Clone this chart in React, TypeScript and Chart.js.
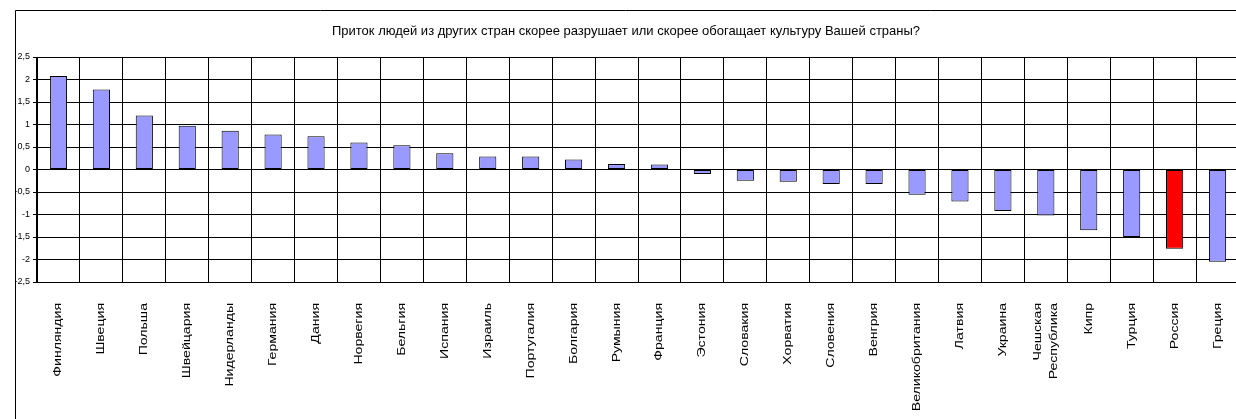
import React, { useEffect, useRef } from "react";
import { Chart, registerables } from "chart.js";

Chart.register(...registerables);

const titleText =
  "Приток людей из других стран скорее разрушает или скорее обогащает культуру Вашей страны?";

const categories: (string | string[])[] = [
  "Финляндия",
  "Швеция",
  "Польша",
  "Швейцария",
  "Нидерланды",
  "Германия",
  "Дания",
  "Норвегия",
  "Бельгия",
  "Испания",
  "Израиль",
  "Португалия",
  "Болгария",
  "Румыния",
  "Франция",
  "Эстония",
  "Словакия",
  "Хорватия",
  "Словения",
  "Венгрия",
  "Великобритания",
  "Латвия",
  "Украина",
  ["Чешская", "Республика"],
  "Кипр",
  "Турция",
  "Россия",
  "Греция",
];

const values: number[] = [
  2.08, 1.78, 1.2, 0.97, 0.86, 0.78, 0.74, 0.6, 0.54, 0.36, 0.29, 0.29, 0.22,
  0.12, 0.11, -0.1, -0.25, -0.27, -0.32, -0.32, -0.56, -0.71, -0.92, -1.02,
  -1.35, -1.5, -1.76, -2.05,
];

const highlighted = "Россия";
const baseColor = "#9999FF";
const highlightColor = "#FF0000";

const yMin = -2.5;
const yMax = 2.5;
const yStep = 0.5;

const CANVAS_W = 1236;
const CANVAS_H = 419;
const PLOT_OVERFLOW_RIGHT = 3;

const framePlugin = {
  id: "frame",
  beforeDraw(chart: any) {
    const ctx = chart.ctx;
    ctx.save();
    ctx.fillStyle = "#ffffff";
    ctx.fillRect(0, 0, chart.width, chart.height);
    ctx.strokeStyle = "#000000";
    ctx.lineWidth = 1;
    ctx.beginPath();
    ctx.moveTo(15.5, chart.height);
    ctx.lineTo(15.5, 10.5);
    ctx.lineTo(chart.width, 10.5);
    ctx.stroke();
    ctx.restore();
  },
};

// The plot area of the original runs a few pixels past the right edge of the picture.
const extendPlotPlugin = {
  id: "extendPlot",
  afterLayout(chart: any) {
    const x = chart.scales.x;
    x.right += PLOT_OVERFLOW_RIGHT;
    x.width += PLOT_OVERFLOW_RIGHT;
    chart.chartArea.right += PLOT_OVERFLOW_RIGHT;
    chart.chartArea.width += PLOT_OVERFLOW_RIGHT;
    x.configure();
  },
};

const stretchedLabelsPlugin = {
  id: "stretchedLabels",
  afterDraw(chart: any) {
    const ctx = chart.ctx;
    const xScale = chart.scales.x;
    const top = chart.chartArea.bottom + 21;
    const lineH = 16;
    ctx.save();
    ctx.fillStyle = "#000000";
    ctx.font = "11px 'Liberation Sans', Arial, sans-serif";
    ctx.textAlign = "right";
    ctx.textBaseline = "middle";
    categories.forEach((label, i) => {
      const lines = Array.isArray(label) ? label : [label];
      const x = xScale.getPixelForValue(i);
      ctx.save();
      ctx.translate(x, top);
      ctx.rotate(-Math.PI / 2);
      ctx.scale(1.28, 1);
      lines.forEach((ln, j) => {
        const dy = (j - (lines.length - 1) / 2) * lineH;
        ctx.fillText(ln, 0, dy);
      });
      ctx.restore();
    });
    ctx.restore();
  },
};

export default function App() {
  const canvasRef = useRef<HTMLCanvasElement | null>(null);

  useEffect(() => {
    const canvas = canvasRef.current;
    if (!canvas) return;
    const chart = new Chart(canvas, {
      type: "bar",
      data: {
        labels: categories,
        datasets: [
          {
            data: values,
            backgroundColor: categories.map((c) =>
              c === highlighted ? highlightColor : baseColor
            ),
            borderColor: "#000000",
            borderWidth: 1,
            borderSkipped: false,
            barPercentage: 0.4,
            categoryPercentage: 1,
          },
        ],
      },
      options: {
        responsive: false,
        animation: false,
        devicePixelRatio: 1,
        layout: { padding: { left: 16, right: 0, top: 0, bottom: 0 } },
        plugins: {
          legend: { display: false },
          tooltip: { enabled: false },
          title: {
            display: true,
            text: titleText,
            color: "#000000",
            font: {
              family: "'Liberation Sans', Arial, sans-serif",
              size: 13,
              weight: "normal",
              lineHeight: 1.2,
            },
            padding: { top: 23.7, bottom: 17.7 },
          },
        },
        scales: {
          x: {
            type: "category",
            offset: true,
            grid: {
              display: true,
              offset: true,
              color: "#000000",
              lineWidth: 1,
              drawTicks: false,
            },
            border: { display: true, color: "#000000" },
            ticks: { display: false },
            afterFit(scale: any) {
              scale.height = 137;
            },
          },
          y: {
            min: yMin,
            max: yMax,
            grid: {
              color: "#000000",
              lineWidth: 1,
              drawTicks: true,
              tickLength: 4,
            },
            border: { display: true, color: "#000000" },
            ticks: {
              stepSize: yStep,
              padding: 3,
              color: "#000000",
              font: { family: "'Liberation Sans', Arial, sans-serif", size: 9 },
              callback: (v: any) =>
                String(Math.round(Number(v) * 10) / 10).replace(".", ","),
            },
            afterFit(scale: any) {
              scale.width = 21;
            },
          },
        },
      },
      plugins: [framePlugin, extendPlotPlugin, stretchedLabelsPlugin],
    });
    return () => chart.destroy();
  }, []);

  return (
    <div
      style={{
        position: "fixed",
        left: 0,
        top: 0,
        width: 1236,
        height: 419,
        overflow: "hidden",
        background: "#ffffff",
      }}
    >
      <canvas
        ref={canvasRef}
        width={CANVAS_W}
        height={CANVAS_H}
        style={{ width: CANVAS_W, height: CANVAS_H, display: "block" }}
      />
    </div>
  );
}
